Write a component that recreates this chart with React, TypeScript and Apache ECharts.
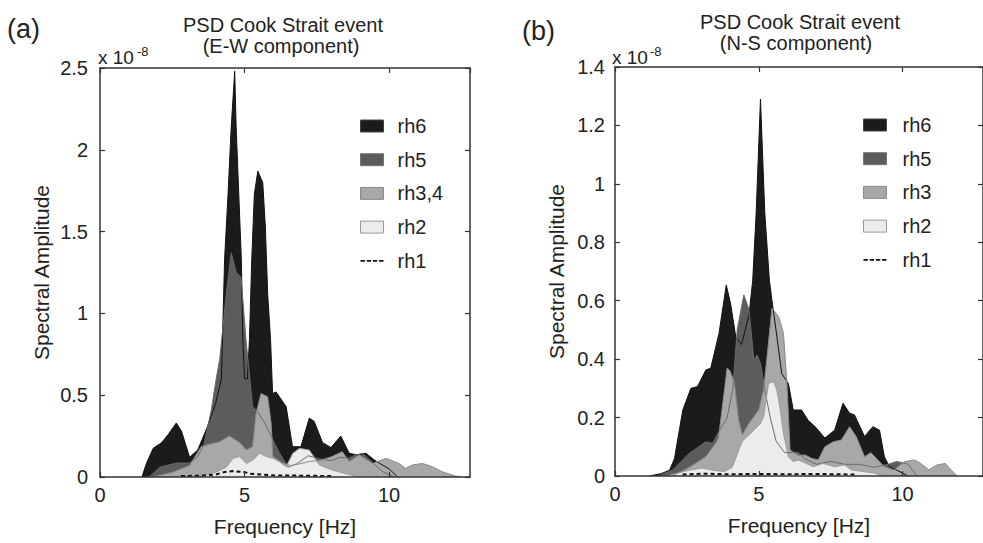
import React, { useEffect, useRef } from 'react';
import * as echarts from 'echarts';

const FONT = '"Liberation Sans", Arial, Helvetica, sans-serif';

// ---------- Panel (a): E-W component (amplitudes in 1e-8) ----------
const ewRh6Freq = [1.45,1.61,1.84,2.13,2.36,2.64,2.82,3.1,3.38,3.7,4.0,4.2,4.31,4.43,4.54,4.66,4.71,4.8,4.89,4.94,5.0,5.1,5.17,5.25,5.34,5.46,5.63,5.72,5.8,5.9,5.97,6.09,6.44,6.66,6.95,7.24,7.41,7.7,7.99,8.33,8.62,8.9,9.2,9.48,9.66,10.0,10.3];
const ewRh6Amp = [0,0.085,0.175,0.21,0.26,0.33,0.28,0.12,0.165,0.3,0.45,0.6,1.33,1.73,2.14,2.48,2.14,1.73,1.33,0.84,0.6,0.6,0.84,1.33,1.73,1.87,1.8,1.53,1.12,0.84,0.51,0.52,0.43,0.185,0.185,0.36,0.34,0.21,0.18,0.25,0.145,0.135,0.145,0.105,0.085,0.05,0];

const ewRh5Freq = [1.7,2.07,2.64,3.1,3.38,3.6,3.85,4.02,4.14,4.37,4.54,4.71,4.88,5.06,5.28,5.45,5.7,5.97,6.2,6.5,6.8,7.2,7.6,8.0,8.3,8.6,8.85,9.08,9.54,9.8,10.2];
const ewRh5Amp = [0,0.06,0.085,0.085,0.125,0.2,0.41,0.6,0.72,1.12,1.37,1.25,1.22,0.82,0.43,0.4,0.33,0.23,0.15,0.06,0.08,0.13,0.11,0.1,0.12,0.115,0.135,0.145,0.07,0.03,0];

const ewRh34Freq = [1.8,2.2,2.53,3.1,3.5,3.68,4.14,4.48,4.83,5.06,5.28,5.4,5.57,5.8,5.92,5.98,6.32,6.6,6.9,7.24,7.6,8.03,8.38,8.62,8.97,9.43,9.89,10.34,10.57,10.8,11.15,11.5,11.84,12.3,12.5];
const ewRh34Amp = [0,0.015,0.03,0.07,0.185,0.195,0.215,0.25,0.21,0.165,0.185,0.39,0.51,0.49,0.33,0.125,0.085,0.07,0.08,0.095,0.1,0.125,0.155,0.095,0.135,0.083,0.114,0.083,0.053,0.073,0.083,0.063,0.032,0.006,0];

const ewRh2Freq = [3.3,3.6,4.02,4.37,4.6,4.83,5.06,5.29,5.52,5.75,5.98,6.2,6.44,6.67,6.9,7.24,7.59,8.03,8.5,9.0];
const ewRh2Amp = [0,0.01,0.03,0.06,0.114,0.125,0.083,0.104,0.145,0.125,0.114,0.094,0.063,0.145,0.175,0.165,0.073,0.043,0.02,0];

const ewRh1Freq = [2.8,3.5,4.0,4.3,4.6,5.0,5.2,5.6,6.0,7.0,8.0];
const ewRh1Amp = [0.006,0.008,0.015,0.03,0.036,0.03,0.02,0.015,0.01,0.008,0.006];

// ---------- Panel (b): N-S component (amplitudes in 1e-8) ----------
const nsRh6Freq = [1.2,1.6,1.9,2.07,2.24,2.36,2.64,2.87,3.16,3.33,3.62,3.87,4.02,4.2,4.4,4.66,4.79,4.91,5.06,5.21,5.37,5.46,5.6,5.8,6.03,6.2,6.49,6.72,6.95,7.3,7.64,7.93,8.16,8.33,8.68,8.97,9.2,9.37,9.54,9.8,10.2];
const nsRh6Amp = [0,0.008,0.02,0.06,0.158,0.226,0.3,0.306,0.363,0.369,0.489,0.654,0.59,0.477,0.45,0.55,0.67,0.9,1.29,0.9,0.67,0.6,0.5,0.35,0.317,0.226,0.226,0.19,0.17,0.13,0.157,0.249,0.215,0.209,0.135,0.169,0.157,0.066,0.032,0.02,0];

const nsRh5Freq = [1.5,2.0,2.3,2.59,3.16,3.39,3.6,3.9,4.1,4.25,4.48,4.66,4.83,4.94,5.06,5.2,5.4,5.6,5.9,6.2,6.38,6.6,7.0,7.5,8.0,8.5,9.0,9.5,9.8,10.2,10.5];
const nsRh5Amp = [0,0.02,0.05,0.078,0.117,0.112,0.15,0.2,0.3,0.5,0.62,0.57,0.397,0.414,0.386,0.3,0.2,0.12,0.08,0.08,0.08,0.06,0.04,0.05,0.04,0.04,0.03,0.04,0.05,0.04,0];

const nsRh3Freq = [2.0,2.3,2.59,3.16,3.5,3.6,3.9,4.0,4.15,4.3,4.43,4.66,5.0,5.17,5.29,5.46,5.69,5.86,5.98,6.09,6.38,6.61,6.85,7.07,7.3,7.59,7.87,8.16,8.39,8.68,8.9,9.14,9.37,9.7,10.06,10.4,10.6,10.92,11.2,11.49,11.7,11.9];
const nsRh3Amp = [0,0.015,0.03,0.066,0.112,0.13,0.37,0.36,0.32,0.19,0.14,0.18,0.226,0.295,0.41,0.574,0.546,0.489,0.317,0.089,0.07,0.072,0.06,0.055,0.1,0.117,0.123,0.169,0.135,0.066,0.08,0.055,0.032,0.02,0.049,0.055,0.045,0.021,0.038,0.043,0.02,0];

const nsRh2Freq = [1.8,2.2,2.59,3.03,3.4,3.8,4.08,4.31,4.43,4.66,5.06,5.17,5.34,5.52,5.63,5.75,5.86,6.03,6.2,6.38,6.6,6.9,7.24,7.64,7.99,8.22,9.02,9.3];
const nsRh2Amp = [0,0.01,0.02,0.027,0.02,0.015,0.03,0.09,0.12,0.14,0.18,0.203,0.317,0.323,0.294,0.226,0.146,0.066,0.05,0.055,0.045,0.032,0.043,0.032,0.038,0.021,0.01,0];

const nsRh1Freq = [2.35,3.0,4.0,5.0,6.0,7.0,8.33];
const nsRh1Amp = [0.005,0.008,0.006,0.007,0.006,0.007,0.005];

// ---------- Axis settings ----------
const freqMax = 12.8;
const freqInterval = 5;
const ewMax = 2.5;
const ewInterval = 0.5;
const nsMax = 1.4;
const nsInterval = 0.2;

const C6 = '#1b1b1b';
const C5 = '#5c5c5c';
const C3 = '#a8a8a8';
const C2 = '#ececec';
const TXT = '#222';
const AX = '#333';

const pairs = (f: number[], a: number[]) => f.map((x, i) => [x, a[i]]);

const area = (name: string, f: number[], a: number[], fill: string, edge: string, idx: number) => ({
  type: 'line',
  name,
  xAxisIndex: idx,
  yAxisIndex: idx,
  data: pairs(f, a),
  symbol: 'none',
  showSymbol: false,
  silent: true,
  lineStyle: { color: edge, width: 1 },
  itemStyle: { color: fill },
  areaStyle: { color: fill, opacity: 1 },
});

const dashed = (name: string, f: number[], a: number[], idx: number) => ({
  type: 'line',
  name,
  xAxisIndex: idx,
  yAxisIndex: idx,
  data: pairs(f, a),
  symbol: 'none',
  showSymbol: false,
  silent: true,
  lineStyle: { color: '#111', width: 2, type: [4, 3] },
  itemStyle: { color: '#111' },
  z: 3,
});

const xAxisDef = (gi: number, top: boolean) => ({
  type: 'value',
  gridIndex: gi,
  position: top ? 'top' : 'bottom',
  min: 0,
  max: freqMax,
  interval: freqInterval,
  z: 5,
  axisLine: { show: true, onZero: false, lineStyle: { color: AX, width: 1.5 } },
  axisTick: { show: true, inside: true, length: 5, lineStyle: { color: AX, width: 1.2 } },
  axisLabel: top
    ? { show: false }
    : { show: true, margin: 8, fontSize: 20, color: TXT, fontFamily: FONT, showMaxLabel: false },
  splitLine: { show: false },
  name: top ? '' : 'Frequency [Hz]',
  nameLocation: 'middle',
  nameGap: 39,
  nameTextStyle: { fontSize: 21, color: TXT, fontFamily: FONT },
});

const yAxisDef = (gi: number, right: boolean, max: number, interval: number, margin: number) => ({
  type: 'value',
  gridIndex: gi,
  position: right ? 'right' : 'left',
  min: 0,
  max,
  interval,
  z: 5,
  axisLine: { show: true, onZero: false, lineStyle: { color: AX, width: 1.5 } },
  axisTick: { show: true, inside: true, length: 5, lineStyle: { color: AX, width: 1.2 } },
  axisLabel: right
    ? { show: false }
    : { show: true, margin, fontSize: 20, color: TXT, fontFamily: FONT },
  splitLine: { show: false },
  name: right ? '' : 'Spectral Amplitude',
  nameLocation: 'middle',
  nameGap: 48,
  nameTextStyle: { fontSize: 21, color: TXT, fontFamily: FONT },
});

const dashIcon = 'path://M0,0h5v2h-5z M7,0h5v2h-5z M14,0h5v2h-5z M21,0h5v2h-5z';

const legendItems = (mid: string) => [
  { name: 'rh6', icon: 'rect', itemStyle: { color: C6, borderColor: '#444', borderWidth: 1 } },
  { name: 'rh5', icon: 'rect', itemStyle: { color: C5, borderColor: '#777', borderWidth: 1 } },
  { name: mid, icon: 'rect', itemStyle: { color: C3, borderColor: '#8a8a8a', borderWidth: 1 } },
  { name: 'rh2', icon: 'rect', itemStyle: { color: C2, borderColor: '#999', borderWidth: 1 } },
  { name: 'rh1', icon: dashIcon, itemStyle: { color: '#111', borderWidth: 0 } },
];

const legendDef = (left: number, top: number, mid: string, pad: number) => ({
  left,
  top,
  orient: 'vertical',
  padding: 0,
  itemWidth: 23,
  itemHeight: 12,
  itemGap: 13.7,
  selectedMode: false,
  textStyle: { fontSize: 20, lineHeight: 20, color: TXT, fontFamily: FONT, padding: [0, 0, 0, pad] },
  data: legendItems(mid),
});

const txt = (text: string, x: number, y: number, size: number, align: string) => ({
  type: 'text',
  x,
  y,
  silent: true,
  style: {
    text,
    fill: TXT,
    font: `${size}px ${FONT}`,
    textAlign: align,
    textVerticalAlign: 'middle',
    align,
    verticalAlign: 'middle',
  },
});

const option = {
  animation: false,
  backgroundColor: '#fff',
  grid: [
    { left: 100, top: 68, width: 370, height: 409, containLabel: false },
    { left: 615, top: 67, width: 370, height: 409, containLabel: false },
  ],
  xAxis: [xAxisDef(0, false), xAxisDef(0, true), xAxisDef(1, false), xAxisDef(1, true)],
  yAxis: [
    yAxisDef(0, false, ewMax, ewInterval, 12),
    yAxisDef(0, true, ewMax, ewInterval, 12),
    yAxisDef(1, false, nsMax, nsInterval, 10),
    yAxisDef(1, true, nsMax, nsInterval, 10),
  ],
  legend: [legendDef(360, 116, 'rh3,4', 9), legendDef(863, 115, 'rh3', 11)],
  series: [
    area('rh6', ewRh6Freq, ewRh6Amp, C6, '#111', 0),
    area('rh5', ewRh5Freq, ewRh5Amp, C5, '#6a6a6a', 0),
    area('rh3,4', ewRh34Freq, ewRh34Amp, C3, '#8a8a8a', 0),
    area('rh2', ewRh2Freq, ewRh2Amp, C2, '#9a9a9a', 0),
    dashed('rh1', ewRh1Freq, ewRh1Amp, 0),
    area('rh6', nsRh6Freq, nsRh6Amp, C6, '#111', 2),
    area('rh5', nsRh5Freq, nsRh5Amp, C5, '#6a6a6a', 2),
    area('rh3', nsRh3Freq, nsRh3Amp, C3, '#8a8a8a', 2),
    area('rh2', nsRh2Freq, nsRh2Amp, C2, '#9a9a9a', 2),
    dashed('rh1', nsRh1Freq, nsRh1Amp, 2),
  ],
  graphic: [
    txt('(a)', 7, 29, 27, 'left'),
    txt('PSD Cook Strait event', 283, 25, 20, 'center'),
    txt('(E-W component)', 281, 46, 20, 'center'),
    txt('x 10', 98, 57, 19, 'left'),
    txt('-8', 137, 51, 13, 'left'),
    txt('(b)', 522, 31, 27, 'left'),
    txt('PSD Cook Strait event', 800, 22, 20, 'center'),
    txt('(N-S component)', 796, 43, 20, 'center'),
    txt('x 10', 612, 57, 19, 'left'),
    txt('-8', 650, 51, 13, 'left'),
  ],
};

export default function App() {
  const ref = useRef<HTMLDivElement>(null);
  useEffect(() => {
    if (!ref.current) return;
    const chart = echarts.init(ref.current, null, { renderer: 'svg' });
    chart.setOption(option as any);
    return () => chart.dispose();
  }, []);
  return (
    <div
      ref={ref}
      style={{ position: 'fixed', left: 0, top: 0, width: 983, height: 543, background: '#fff' }}
    />
  );
}
